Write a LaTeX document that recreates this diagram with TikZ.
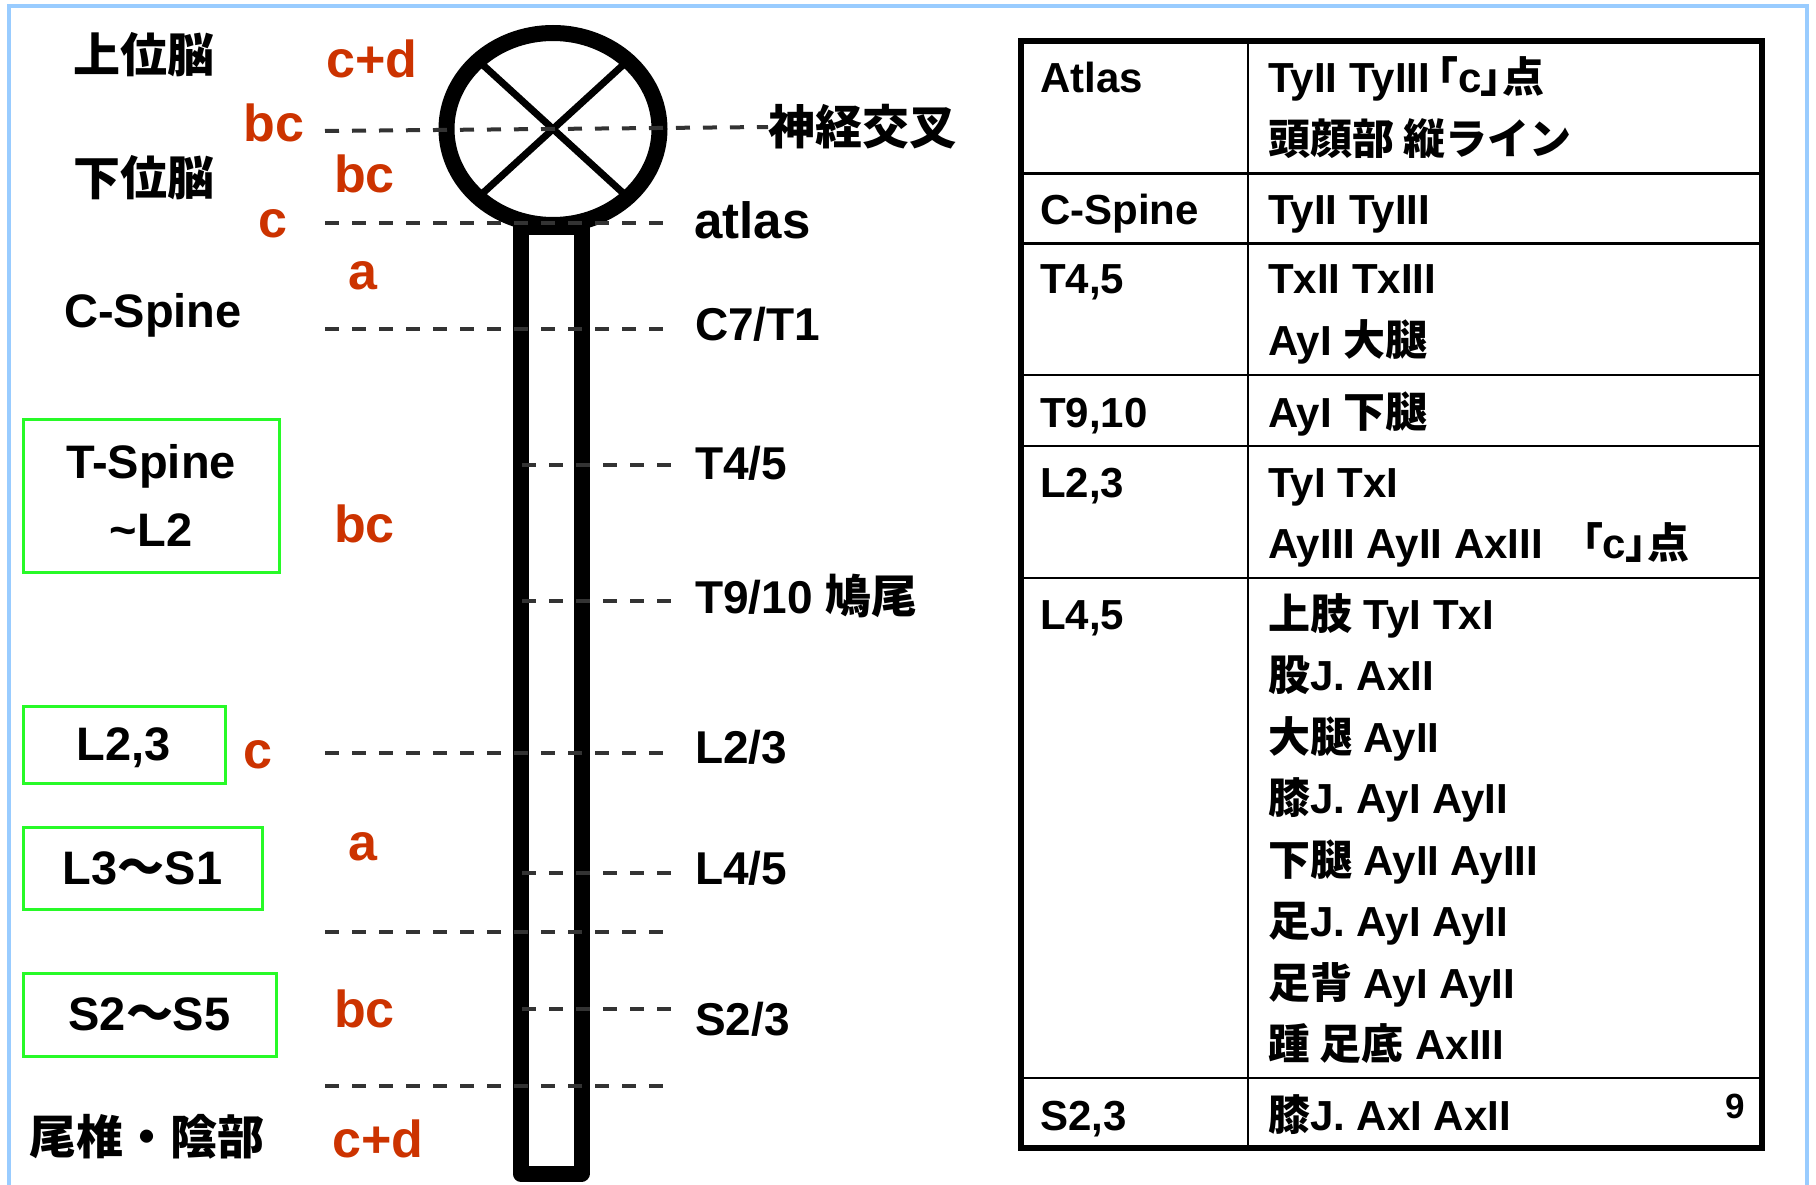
\documentclass[tikz,border=0pt]{standalone}
\usepackage{fontspec}
\setmainfont{Liberation Sans}
\newfontfamily\jpfont{Noto Sans CJK JP}
\newfontfamily\jpprop{Noto Sans CJK JP}[RawFeature=+palt]
\newcommand\ja[1]{{\jpfont #1}}
\newcommand\cpoint{{\jpprop 「}c{\jpprop 」}\ja{点}}
\definecolor{tagred}{RGB}{204,51,0}
\definecolor{boxgreen}{RGB}{40,250,40}
\definecolor{frameblue}{RGB}{153,204,255}
\definecolor{guidegray}{RGB}{51,51,51}
\tikzset{
  lbl/.style={font=\bfseries\fontsize{47}{56}\selectfont, inner sep=0pt},
  lvl/.style={font=\bfseries\fontsize{46}{55}\selectfont, inner sep=0pt, anchor=base west},
  tag/.style={font=\bfseries\fontsize{52}{60}\selectfont, text=tagred, inner sep=0pt, anchor=base},
  segbox/.style={draw=boxgreen, line width=3pt, inner sep=0pt, align=center,
    font=\bfseries\fontsize{47}{68}\selectfont},
  guide/.style={draw=guidegray, dash pattern=on 14pt off 13pt, line width=4pt},
  cell/.style={font=\bfseries\fontsize{42}{50}\selectfont, inner sep=0pt, anchor=base west},
}

\begin{document}
\begin{tikzpicture}[x=1pt,y=-1pt]
  \useasboundingbox (0,0) rectangle (1816,1185);
  \draw[frameblue, line width=4pt] (9,1185) -- (9,6.5) -- (1806.5,6.5) -- (1806.5,1185);

  % head with chiasm and spinal cord
  \draw[line width=7pt] (478.7,61.1) -- (627.3,196.9);
  \draw[line width=7pt] (627.3,61.1) -- (478.7,196.9);
  \draw[line width=16pt] (553,129) ellipse [x radius=106.5pt, y radius=96pt];
  \draw[line width=16pt, line join=round] (520.5,227) rectangle (581.5,1173.5);

  % levels on the right
  \node[lbl, anchor=west] (chiasm) at (768,127) {\ja{神経交叉}};
  \node[lvl, font=\bfseries\fontsize{51}{60}\selectfont] (atlas) at (694,239) {atlas};
  \node[lvl] (c7t1)  at (695,340) {C7/T1};
  \node[lvl] (t45)   at (695,479) {T4/5};
  \node[lvl] (t910)  at (695,613) {T9/10 \ja{鳩尾}};
  \node[lvl] (l23)   at (695,763) {L2/3};
  \node[lvl] (l45)   at (695,884) {L4/5};
  \node[lvl] (s23)   at (695,1035) {S2/3};

  \draw[guide] (325,131) -- (chiasm.west);
  \draw[guide] (325,223) -- (664,223);
  \draw[guide] (325,329) -- (664,329);
  \draw[guide] (522,465) -- (672,465);
  \draw[guide] (522,601) -- (672,601);
  \draw[guide] (325,753) -- (664,753);
  \draw[guide] (522,873) -- (672,873);
  \draw[guide] (325,932) -- (664,932);
  \draw[guide] (522,1009) -- (672,1009);
  \draw[guide] (325,1086) -- (664,1086);

  % regions on the left
  \node[lbl] (upper) at (143.5,55) {\ja{上位脳}};
  \node[lbl] (lower) at (143.5,178) {\ja{下位脳}};
  \node[lbl, anchor=base] (cspine) at (153,327) {C-Spine};
  \node[segbox, minimum width=256pt, minimum height=153pt] (tspine) at (151,495.5)
    {T-Spine\\\textasciitilde L2};
  \node[segbox, minimum width=202pt, minimum height=77pt, text depth=0pt] (lumb) at (124,744.5) {L2,3};
  \node[segbox, minimum width=239pt, minimum height=82pt, text depth=0pt] (lsac) at (142.5,868)
    {L3\ja{〜}S1};
  \node[segbox, minimum width=253pt, minimum height=83pt, text depth=0pt] (sacr) at (149.5,1014.5)
    {S2\ja{〜}S5};
  \node[lbl] (coccyx) at (147,1137) {\ja{尾椎・陰部}};

  % reflex types
  \node[tag] (t1)  at (372,78)   {c+d};
  \node[tag] (t2)  at (274,142)  {bc};
  \node[tag] (t3)  at (364.5,193) {bc};
  \node[tag] (t4)  at (273,238)  {c};
  \node[tag] (t5)  at (363,290)  {a};
  \node[tag] (t6)  at (364.5,542) {bc};
  \node[tag] (t7)  at (258,768)  {c};
  \node[tag] (t8)  at (363,860)  {a};
  \node[tag] (t9)  at (364.5,1027) {bc};
  \node[tag] (t10) at (378,1157) {c+d};

  % table
  \draw[line width=5.5pt] (1021,41) rectangle (1762,1148);
  \draw[line width=2.5pt] (1248,41) -- (1248,1148);
  \draw[line width=2.5pt] (1021,173.5) -- (1762,173.5);
  \draw[line width=2.5pt] (1021,243.5) -- (1762,243.5);
  \draw[line width=2.5pt] (1021,375) -- (1762,375);
  \draw[line width=2.5pt] (1021,446) -- (1762,446);
  \draw[line width=2.5pt] (1021,578) -- (1762,578);
  \draw[line width=2.5pt] (1021,1078) -- (1762,1078);

  \node[cell] (r1a) at (1040,93)    {Atlas};
  \node[cell] (r1b) at (1268,93)    {TyII TyIII\,\cpoint};
  \node[cell] (r1c) at (1268,154.5) {\ja{頭顔部 縦ライン}};
  \node[cell] (r2a) at (1040,225)   {C-Spine};
  \node[cell] (r2b) at (1268,225)   {TyII TyIII};
  \node[cell] (r3a) at (1040,294)   {T4,5};
  \node[cell] (r3b) at (1268,294)   {TxII TxIII};
  \node[cell] (r3c) at (1268,355.5) {AyI \ja{大腿}};
  \node[cell] (r4a) at (1040,427)   {T9,10};
  \node[cell] (r4b) at (1268,427)   {AyI \ja{下腿}};
  \node[cell] (r5a) at (1040,497)   {L2,3};
  \node[cell] (r5b) at (1268,497)   {TyI TxI};
  \node[cell] (r5c) at (1268,558.5) {AyIII AyII AxIII\hspace{0.93em}\cpoint};
  \node[cell] (r6a) at (1040,629)   {L4,5};
  \node[cell] (r6b) at (1268,629)   {\ja{上肢} TyI TxI};
  \node[cell] (r6c) at (1268,690.5) {\ja{股}J. AxII};
  \node[cell] (r6d) at (1268,752)   {\ja{大腿} AyII};
  \node[cell] (r6e) at (1268,813.5) {\ja{膝}J. AyI AyII};
  \node[cell] (r6f) at (1268,875)   {\ja{下腿} AyII AyIII};
  \node[cell] (r6g) at (1268,936.5) {\ja{足}J. AyI AyII};
  \node[cell] (r6h) at (1268,998)   {\ja{足背} AyI AyII};
  \node[cell] (r6i) at (1268,1059.5) {\ja{踵 足底} AxIII};
  \node[cell] (r7a) at (1040,1130)  {S2,3};
  \node[cell] (r7b) at (1268,1130)  {\ja{膝}J. AxI AxII};
  \node[cell, anchor=base east, font=\bfseries\fontsize{35}{40}\selectfont] (page) at (1745,1118) {9};
\end{tikzpicture}
\end{document}
